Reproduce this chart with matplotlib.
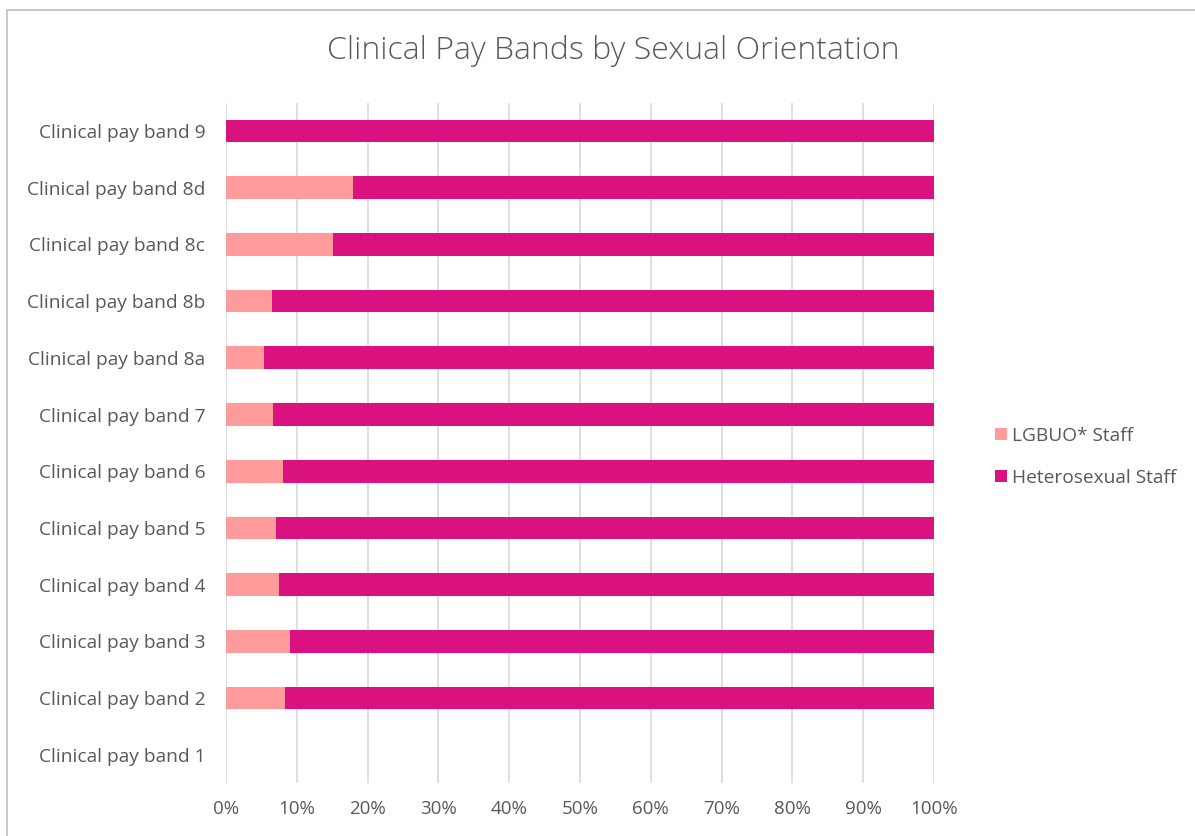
import matplotlib
matplotlib.use("Agg")
import matplotlib.pyplot as plt
from matplotlib.patches import Rectangle
from matplotlib.ticker import PercentFormatter

bands = ["Clinical pay band 1", "Clinical pay band 2", "Clinical pay band 3",
         "Clinical pay band 4", "Clinical pay band 5", "Clinical pay band 6",
         "Clinical pay band 7", "Clinical pay band 8a", "Clinical pay band 8b",
         "Clinical pay band 8c", "Clinical pay band 8d", "Clinical pay band 9"]
lgbuo = [0.0, 8.3, 9.1, 7.5, 7.0, 8.0, 6.7, 5.4, 6.5, 15.1, 18.0, 0.0]
hetero = [0.0, 91.7, 90.9, 92.5, 93.0, 92.0, 93.3, 94.6, 93.5, 84.9, 82.0, 100.0]
ticks = [0, 10, 20, 30, 40, 50, 60, 70, 80, 90, 100]

c_lgbuo = "#FF9B9B"
c_het = "#D9127F"
text_c = "#595959"
grid_c = "#D9D9D9"

plt.rcParams["font.family"] = ["Open Sans", "DejaVu Sans"]

W, H = 1195, 836
fig = plt.figure(figsize=(W / 100, H / 100), dpi=100)
fig.patch.set_facecolor("white")

# chart frame
fig.patches.append(Rectangle((7 / W, -0.01), 1.2, 1 - 10 / H + 0.01,
                             transform=fig.transFigure, fill=False,
                             edgecolor="#BFBFBF", linewidth=1.2))

ax = fig.add_axes([226 / W, 1 - 783 / H, 708 / W, (783 - 102.7) / H])
y = list(range(len(bands)))
ax.barh(y, lgbuo, height=0.4, color=c_lgbuo, label="LGBUO* Staff", zorder=3)
ax.barh(y, hetero, left=lgbuo, height=0.4, color=c_het,
        label="Heterosexual Staff", zorder=3)

ax.set_xlim(0, 100)
ax.set_ylim(-0.5, len(bands) - 0.5)
ax.set_xticks(ticks)
ax.xaxis.set_major_formatter(PercentFormatter(decimals=0))
ax.set_yticks(y)
ax.set_yticklabels(bands)
ax.tick_params(axis="both", length=0, colors=text_c)
ax.tick_params(axis="x", pad=12, labelsize=13.5)
ax.tick_params(axis="y", pad=15, labelsize=13.8)
ax.grid(axis="x", color=grid_c, linewidth=1.2, zorder=0)
for s in ax.spines.values():
    s.set_visible(False)

fig.text(613 / W, 1 - 51 / H, "Clinical Pay Bands by Sexual Orientation",
         ha="center", va="center", fontsize=23, fontweight="light",
         color=text_c)

leg = ax.legend(loc="center left", bbox_to_anchor=(1.062, 0.479), frameon=False,
                fontsize=13.8, labelcolor=text_c, handlelength=0.6,
                handleheight=0.6, handletextpad=0.3, labelspacing=1.25)

fig.savefig("out.png", dpi=100)
